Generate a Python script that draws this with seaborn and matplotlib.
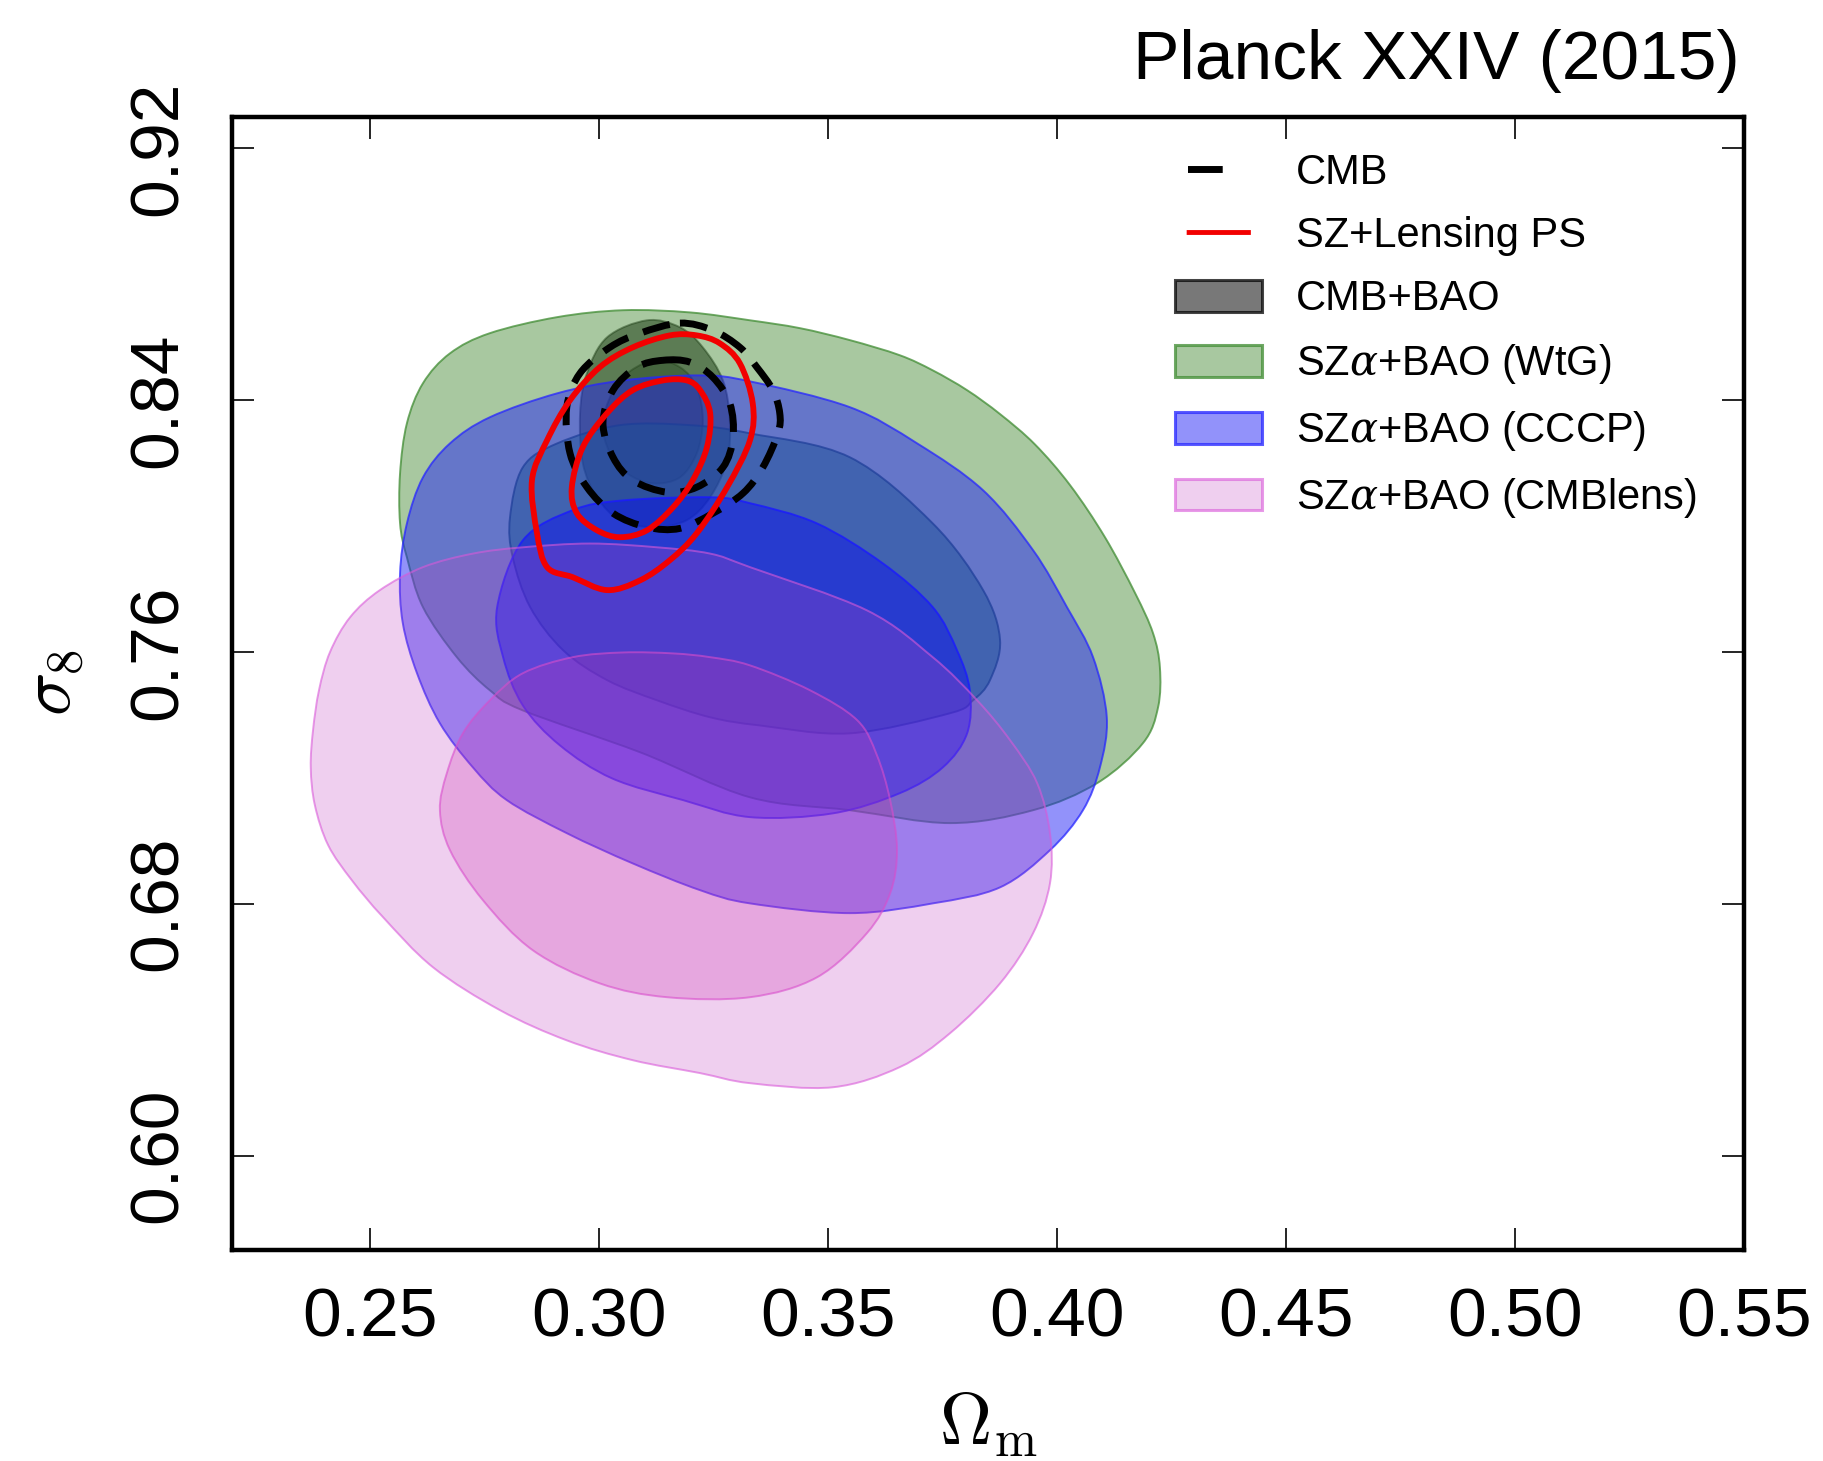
import numpy as np
import matplotlib
matplotlib.use("Agg")
import matplotlib.pyplot as plt
import seaborn as sns
from matplotlib.path import Path
from matplotlib.patches import PathPatch, Patch
from matplotlib.lines import Line2D

# ---- contour outlines in the (Omega_m, sigma_8) plane ----
# CMB+BAO (grey)
cmbbao_2s_om = [0.3105, 0.3177, 0.3227, 0.3271, 0.3286, 0.3280, 0.3243, 0.3192, 0.3118, 0.3046, 0.2996, 0.2965, 0.2959, 0.2974, 0.3018]
cmbbao_2s_s8 = [0.8653, 0.8631, 0.8567, 0.8462, 0.8335, 0.8208, 0.8091, 0.8018, 0.7996, 0.8018, 0.8091, 0.8199, 0.8358, 0.8485, 0.8599]
cmbbao_1s_om = [0.3118, 0.3177, 0.3214, 0.3227, 0.3214, 0.3177, 0.3118, 0.3061, 0.3024, 0.3009, 0.3046]
cmbbao_1s_s8 = [0.8526, 0.8504, 0.8440, 0.8335, 0.8231, 0.8154, 0.8135, 0.8167, 0.8231, 0.8335, 0.8462]

# SZ alpha + BAO (WtG), green
wtg_2s_om = [0.3053, 0.3199, 0.3330, 0.3439, 0.3548, 0.3657, 0.3729, 0.3804, 0.3876, 0.3952, 0.4029, 0.4105, 0.4171, 0.4210,
             0.4225, 0.4221, 0.4188, 0.4088, 0.3948, 0.3767, 0.3548, 0.3330, 0.3090, 0.2834, 0.2762, 0.2690, 0.2616, 0.2581,
             0.2566, 0.2566, 0.2581, 0.2616, 0.2675, 0.2762, 0.2909]
wtg_2s_s8 = [0.8685, 0.8678, 0.8653, 0.8628, 0.8590, 0.8542, 0.8494, 0.8431, 0.8355, 0.8259, 0.8129, 0.7964, 0.7786, 0.7659,
             0.7550, 0.7424, 0.7310, 0.7183, 0.7097, 0.7056, 0.7097, 0.7138, 0.7281, 0.7414, 0.7478, 0.7583, 0.7742, 0.7900,
             0.8008, 0.8167, 0.8326, 0.8453, 0.8548, 0.8612, 0.8663]
wtg_1s_om = [0.2909, 0.3046, 0.3199, 0.3330, 0.3548, 0.3729, 0.3839, 0.3876, 0.3854, 0.3817, 0.3767, 0.3548, 0.3352, 0.3243,
             0.3127, 0.3018, 0.2922, 0.2850, 0.2812, 0.2806, 0.2834]
wtg_1s_s8 = [0.8262, 0.8320, 0.8320, 0.8294, 0.8218, 0.8008, 0.7796, 0.7637, 0.7510, 0.7446, 0.7405, 0.7341, 0.7366, 0.7392,
             0.7446, 0.7510, 0.7605, 0.7742, 0.7900, 0.8027, 0.8186]

# SZ alpha + BAO (CCCP), blue
cccp_2s_om = [0.3053, 0.3221, 0.3330, 0.3548, 0.3695, 0.3839, 0.3948, 0.4022, 0.4079, 0.4109, 0.4094, 0.4057, 0.3985, 0.3876,
              0.3729, 0.3548, 0.3330, 0.3221, 0.3074, 0.2930, 0.2799, 0.2725, 0.2653, 0.2603, 0.2572, 0.2566, 0.2581, 0.2616,
              0.2675, 0.2762, 0.2909]
cccp_2s_s8 = [0.8462, 0.8478, 0.8459, 0.8377, 0.8262, 0.8113, 0.7923, 0.7742, 0.7583, 0.7392, 0.7233, 0.7097, 0.6970, 0.6852,
              0.6801, 0.6770, 0.6801, 0.6843, 0.6928, 0.7024, 0.7129, 0.7233, 0.7373, 0.7532, 0.7691, 0.7850, 0.8008, 0.8154,
              0.8262, 0.8345, 0.8421]
cccp_1s_om = [0.2943, 0.3053, 0.3243, 0.3330, 0.3476, 0.3620, 0.3729, 0.3782, 0.3810, 0.3804, 0.3751, 0.3657, 0.3511, 0.3330,
              0.3184, 0.3029, 0.2915, 0.2834, 0.2791, 0.2778, 0.2834]
cccp_1s_s8 = [0.8050, 0.8081, 0.8091, 0.8072, 0.8008, 0.7881, 0.7742, 0.7605, 0.7478, 0.7341, 0.7233, 0.7151, 0.7087, 0.7075,
              0.7129, 0.7198, 0.7303, 0.7430, 0.7583, 0.7742, 0.7954]

# SZ alpha + BAO (CMBlens), pink
cmblens_2s_om = [0.2616, 0.2725, 0.2834, 0.2981, 0.3127, 0.3243, 0.3330, 0.3585, 0.3729, 0.3826, 0.3898, 0.3957, 0.3985, 0.3985,
                 0.3948, 0.3876, 0.3767, 0.3657, 0.3511, 0.3330, 0.3221, 0.3074, 0.2930, 0.2784, 0.2638, 0.2529, 0.2461, 0.2409,
                 0.2380, 0.2371, 0.2376, 0.2389, 0.2413, 0.2457, 0.2522]
cmblens_2s_s8 = [0.7869, 0.7912, 0.7932, 0.7944, 0.7932, 0.7912, 0.7869, 0.7732, 0.7583, 0.7446, 0.7319, 0.7183, 0.7024, 0.6865,
                 0.6706, 0.6547, 0.6389, 0.6281, 0.6217, 0.6230, 0.6262, 0.6303, 0.6366, 0.6462, 0.6598, 0.6757, 0.6874, 0.6986,
                 0.7113, 0.7233, 0.7351, 0.7478, 0.7599, 0.7710, 0.7796]
cmblens_1s_om = [0.2943, 0.3053, 0.3162, 0.3243, 0.3330, 0.3461, 0.3564, 0.3607, 0.3636, 0.3651, 0.3636, 0.3585, 0.3476, 0.3330,
                 0.3149, 0.3002, 0.2856, 0.2747, 0.2675, 0.2653, 0.2668, 0.2703, 0.2762, 0.2834]
cmblens_1s_s8 = [0.7583, 0.7598, 0.7595, 0.7583, 0.7557, 0.7478, 0.7383, 0.7272, 0.7129, 0.6970, 0.6833, 0.6706, 0.6566, 0.6503,
                 0.6503, 0.6547, 0.6652, 0.6811, 0.6970, 0.7097, 0.7214, 0.7341, 0.7446, 0.7532]

# CMB (black dashed)
cmb_2s_om = [0.3177, 0.3249, 0.3308, 0.3345, 0.3380, 0.3395, 0.3391, 0.3358, 0.3315, 0.3249, 0.3177, 0.3105, 0.3031, 0.2974,
             0.2937, 0.2930, 0.2959, 0.3024, 0.3090]
cmb_2s_s8 = [0.8644, 0.8621, 0.8567, 0.8504, 0.8431, 0.8358, 0.8294, 0.8186, 0.8104, 0.8040, 0.7992, 0.7996, 0.8040, 0.8123,
             0.8231, 0.8377, 0.8485, 0.8567, 0.8612]
cmb_1s_om = [0.3140, 0.3199, 0.3249, 0.3286, 0.3293, 0.3271, 0.3214, 0.3149, 0.3074, 0.3031, 0.3009, 0.3031, 0.3083]
cmb_1s_s8 = [0.8526, 0.8520, 0.8472, 0.8389, 0.8281, 0.8186, 0.8123, 0.8107, 0.8145, 0.8218, 0.8326, 0.8431, 0.8504]

# SZ + Lensing PS (red)
szlens_2s_om = [0.3155, 0.3214, 0.3264, 0.3308, 0.3336, 0.3330, 0.3280, 0.3214, 0.3155, 0.3090, 0.3018, 0.2943, 0.2887, 0.2865,
                0.2854, 0.2887, 0.2937, 0.3002, 0.3074]
szlens_2s_s8 = [0.8605, 0.8605, 0.8580, 0.8516, 0.8389, 0.8272, 0.8123, 0.7977, 0.7891, 0.7827, 0.7796, 0.7837, 0.7869, 0.7977,
                0.8145, 0.8272, 0.8399, 0.8504, 0.8567]
szlens_1s_om = [0.3140, 0.3192, 0.3221, 0.3243, 0.3236, 0.3205, 0.3162, 0.3105, 0.3046, 0.2996, 0.2952, 0.2941, 0.2965, 0.3018, 0.3074]
szlens_1s_s8 = [0.8462, 0.8462, 0.8431, 0.8358, 0.8250, 0.8145, 0.8059, 0.7986, 0.7964, 0.7986, 0.8040, 0.8123, 0.8250, 0.8358, 0.8431]

legend_labels = ["CMB", "SZ+Lensing PS", "CMB+BAO", r"SZ$\alpha$+BAO (WtG)",
                 r"SZ$\alpha$+BAO (CCCP)", r"SZ$\alpha$+BAO (CMBlens)"]
x_ticks = [0.25, 0.30, 0.35, 0.40, 0.45, 0.50, 0.55]
y_ticks = [0.60, 0.68, 0.76, 0.84, 0.92]

# ---- style ----
sns.set_theme(style="ticks")
plt.rcParams["font.family"] = ["Liberation Sans", "DejaVu Sans"]
plt.rcParams["text.color"] = "black"
plt.rcParams["axes.labelcolor"] = "black"
plt.rcParams["xtick.color"] = "black"
plt.rcParams["ytick.color"] = "black"
plt.rcParams["mathtext.fontset"] = "custom"
plt.rcParams["mathtext.rm"] = "Liberation Sans"
plt.rcParams["mathtext.it"] = "DejaVu Serif:italic"


def closed_curve(xs, ys):
    """Smooth closed Bezier path passing through the outline vertices."""
    p = np.column_stack([xs, ys])
    n = len(p)
    verts = [p[0]]
    codes = [Path.MOVETO]
    for i in range(n):
        p0, p1, p2, p3 = p[i - 1], p[i], p[(i + 1) % n], p[(i + 2) % n]
        verts += [p1 + (p2 - p0) / 6.0, p2 - (p3 - p1) / 6.0, p2]
        codes += [Path.CURVE4] * 3
    verts.append(p[0])
    codes.append(Path.CLOSEPOLY)
    return Path(np.array(verts), codes)


fig = plt.figure(figsize=(18.23, 14.61), dpi=100)
ax = fig.add_axes([0.1275, 0.1444, 0.8291, 0.7758])

filled = [
    (cmbbao_2s_om, cmbbao_2s_s8, (0, 0, 0, 0.53), (0, 0, 0, 0.45)),
    (cmbbao_1s_om, cmbbao_1s_s8, (0, 0, 0, 0.33), (0, 0, 0, 0.35)),
    (wtg_2s_om, wtg_2s_s8, (0.224, 0.51, 0.153, 0.44), (0.25, 0.55, 0.2, 0.75)),
    (wtg_1s_om, wtg_1s_s8, (0.10, 0.50, 0.25, 0.50), (0.10, 0.35, 0.25, 0.7)),
    (cccp_2s_om, cccp_2s_s8, (0.13, 0.13, 0.96, 0.49), (0.15, 0.15, 1.0, 0.75)),
    (cccp_1s_om, cccp_1s_s8, (0.0, 0.0, 1.0, 0.40), (0.1, 0.1, 1.0, 0.8)),
    (cmblens_2s_om, cmblens_2s_s8, (0.764, 0.264, 0.764, 0.25), (0.85, 0.35, 0.85, 0.6)),
    (cmblens_1s_om, cmblens_1s_s8, (0.80, 0.20, 0.70, 0.25), (0.85, 0.30, 0.80, 0.6)),
]
for om, s8, face, edge in filled:
    ax.add_patch(PathPatch(closed_curve(om, s8), facecolor=face, edgecolor=edge, lw=1.4, zorder=2))

dash = (0, (4.0, 2.3))
for om, s8 in [(cmb_2s_om, cmb_2s_s8), (cmb_1s_om, cmb_1s_s8)]:
    ax.add_patch(PathPatch(closed_curve(om, s8), fill=False, edgecolor="black",
                           lw=5.0, linestyle=dash, zorder=3))
for om, s8 in [(szlens_2s_om, szlens_2s_s8), (szlens_1s_om, szlens_1s_s8)]:
    ax.add_patch(PathPatch(closed_curve(om, s8), fill=False, edgecolor=(0.95, 0, 0),
                           lw=4.2, zorder=4))

ax.set_xlim(0.22, 0.55)
ax.set_ylim(0.57, 0.93)
ax.set_xticks(x_ticks)
ax.set_yticks(y_ticks)
ax.set_xticklabels([f"{v:.2f}" for v in x_ticks])
ax.set_yticklabels([f"{v:.2f}" for v in y_ticks])
ax.tick_params(which="major", direction="in", length=16, width=1.2, top=True, right=True,
               labelsize=50, color="black", labelcolor="black")
ax.tick_params(axis="x", pad=26)
ax.tick_params(axis="y", pad=30, labelrotation=90)
for lbl in ax.get_yticklabels():
    lbl.set_va("center")
for sp in ax.spines.values():
    sp.set_linewidth(3.2)
    sp.set_color("black")
    sp.set_visible(True)

ax.set_xlabel(r"$\Omega_{\rm m}$", fontsize=52, math_fontfamily="cm")
ax.set_ylabel(r"$\sigma_8$", fontsize=52, math_fontfamily="cm")
ax.xaxis.set_label_coords(0.5, -0.155)
ax.xaxis.label.set_va("center")
ax.yaxis.set_label_coords(-0.119, 0.5)
ax.yaxis.label.set_va("center")

fig.text(0.9545, 0.946, "Planck XXIV (2015)", ha="right", va="baseline", fontsize=50, color="black")

handles = [
    Line2D([], [], color="black", lw=5, linestyle=(13.2, (5.0, 10.0))),
    Line2D([], [], color=(0.95, 0, 0), lw=3.5, linestyle=(20.9, (13.2, 10.0))),
    Patch(facecolor=(0, 0, 0, 0.53), edgecolor=(0, 0, 0, 0.73), lw=2.2),
    Patch(facecolor=(0.224, 0.51, 0.153, 0.44), edgecolor=(0.25, 0.55, 0.2, 0.75), lw=2.2),
    Patch(facecolor=(0.13, 0.13, 0.96, 0.49), edgecolor=(0.15, 0.15, 1.0, 0.75), lw=2.2),
    Patch(facecolor=(0.764, 0.264, 0.764, 0.25), edgecolor=(0.85, 0.35, 0.85, 0.6), lw=2.2),
]
fig.legend(handles, legend_labels, loc="upper left", bbox_to_anchor=(0.6445, 0.895),
           bbox_transform=fig.transFigure, frameon=False, fontsize=30, borderpad=0,
           borderaxespad=0, handlelength=2.09, handleheight=0.8, handletextpad=0.82,
           labelspacing=0.55)

fig.savefig("out.png", dpi=100)
